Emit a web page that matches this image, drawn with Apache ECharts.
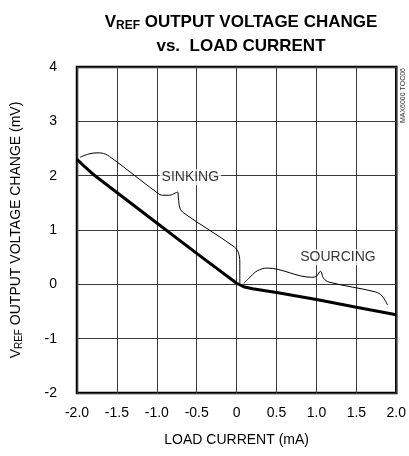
<!DOCTYPE html>
<html>
<head>
<meta charset="utf-8">
<script src="https://cdn.jsdelivr.net/npm/echarts@6/dist/echarts.min.js"></script>
<style>
  html, body { margin: 0; padding: 0; background: #fff; }
  #grafico { width: 409px; height: 456px; }
</style>
</head>
<body>
<div id="grafico"></div>
<script>
// Datos (corriente en mA, cambio de voltaje en mV)
var corriente = [-2.0, -1.9, -1.8, -1.75, -1.5, -1.0, -0.5, 0.0, 0.1, 0.2, 0.5, 1.0, 1.5, 2.0];
var cambioVref = [2.30, 2.16, 2.03, 1.97, 1.69, 1.13, 0.57, 0.02, -0.05, -0.08, -0.15, -0.28, -0.42, -0.56];

// Llave "SINKING"
var llaveSinkX = [-1.96, -1.85, -1.75, -1.67, -1.57, -0.99, -0.93, -0.84, -0.77, -0.74, -0.73, -0.71, -0.66, -0.03, 0.02, 0.04, 0.04];
var llaveSinkY = [2.34, 2.40, 2.42, 2.41, 2.33, 1.68, 1.64, 1.64, 1.68, 1.70, 1.59, 1.40, 1.31, 0.69, 0.59, 0.41, 0.02];

// Llave "SOURCING"
var llaveSrcX = [0.09, 0.18, 0.26, 0.38, 0.94, 1.00, 1.05, 1.09, 1.16, 1.74, 1.82, 1.89];
var llaveSrcY = [0.02, 0.15, 0.25, 0.30, 0.13, 0.15, 0.24, 0.11, 0.04, -0.14, -0.21, -0.38];

var etiquetas = ['SINKING', 'SOURCING'];
var etiquetasX = [-0.58, 1.27];
var etiquetasY = [1.97, 0.50];

var fuente = "'Liberation Sans Narrow', 'Liberation Sans', Arial, sans-serif";

function pares(xs, ys) {
    return xs.map(function (x, i) { return [x, ys[i]]; });
}

var grafico = echarts.init(document.getElementById('grafico'));

var opciones = {
    animation: false,
    backgroundColor: '#fff',
    title: {
        text: '{v|V}{s|REF}{v| OUTPUT VOLTAGE CHANGE}\n{v|vs.  LOAD CURRENT}',
        left: 236,
        top: 5,
        textAlign: 'center',
        textStyle: {
            rich: {
                v: { fontFamily: fuente, fontWeight: 'bold', fontSize: 17, color: '#000', lineHeight: 24 },
                s: { fontFamily: fuente, fontWeight: 'bold', fontSize: 12, color: '#000', lineHeight: 24, padding: [8, 0, 0, 0] }
            }
        }
    },
    grid: {
        left: 73, right: 11, top: 67, bottom: 63,
        show: true,
        borderColor: '#000',
        borderWidth: 2.5,
        backgroundColor: 'transparent'
    },
    xAxis: {
        type: 'value',
        min: -2, max: 2, interval: 0.5,
        name: 'LOAD CURRENT (mA)',
        nameLocation: 'middle',
        nameGap: 40,
        nameTextStyle: { fontFamily: fuente, fontSize: 14, color: '#000' },
        axisLine: { show: false },
        axisTick: { show: false },
        axisLabel: {
            margin: 13,
            fontFamily: fuente, fontSize: 14, color: '#000',
            formatter: function (v) { return v === 0 ? '0' : v.toFixed(1); }
        },
        splitLine: { show: true, lineStyle: { color: '#3a3a3a', width: 1 } }
    },
    yAxis: {
        type: 'value',
        min: -2, max: 4, interval: 1,
        name: '{v|V}{s|REF}{v| OUTPUT VOLTAGE CHANGE (mV)}',
        nameLocation: 'middle',
        nameRotate: 90,
        nameGap: 52,
        nameTextStyle: {
            rich: {
                v: { fontFamily: fuente, fontSize: 14, color: '#000', lineHeight: 18 },
                s: { fontFamily: fuente, fontSize: 10, color: '#000', lineHeight: 18, padding: [6, 0, 0, 0] }
            }
        },
        axisLine: { show: false },
        axisTick: { show: false },
        axisLabel: { margin: 20, fontFamily: fuente, fontSize: 14, color: '#000' },
        splitLine: { show: true, lineStyle: { color: '#3a3a3a', width: 1 } }
    },
    graphic: [{
        type: 'text',
        left: 400,
        top: 68,
        rotation: Math.PI / 2,
        style: { text: 'MAX6000 TOC06', fontFamily: fuente, fontSize: 7, fill: '#333' }
    }],
    series: [
        {
            name: 'VREF', type: 'line', data: pares(corriente, cambioVref),
            showSymbol: false, lineStyle: { color: '#000', width: 3 }, z: 5
        },
        {
            name: 'sinking', type: 'line', data: pares(llaveSinkX, llaveSinkY),
            smooth: 0.35, showSymbol: false, lineStyle: { color: '#000', width: 1 }, z: 4
        },
        {
            name: 'sourcing', type: 'line', data: pares(llaveSrcX, llaveSrcY),
            smooth: 0.35, showSymbol: false, lineStyle: { color: '#000', width: 1 }, z: 4
        },
        {
            name: 'etiquetas', type: 'scatter', symbolSize: 0, z: 6,
            data: etiquetas.map(function (t, i) { return { name: t, value: [etiquetasX[i], etiquetasY[i]] }; }),
            label: {
                show: true, position: 'inside', formatter: '{b}',
                fontFamily: fuente, fontSize: 14, color: '#000',
                backgroundColor: '#fff', padding: [1, 2]
            }
        }
    ]
};

grafico.setOption(opciones);
</script>
</body>
</html>
